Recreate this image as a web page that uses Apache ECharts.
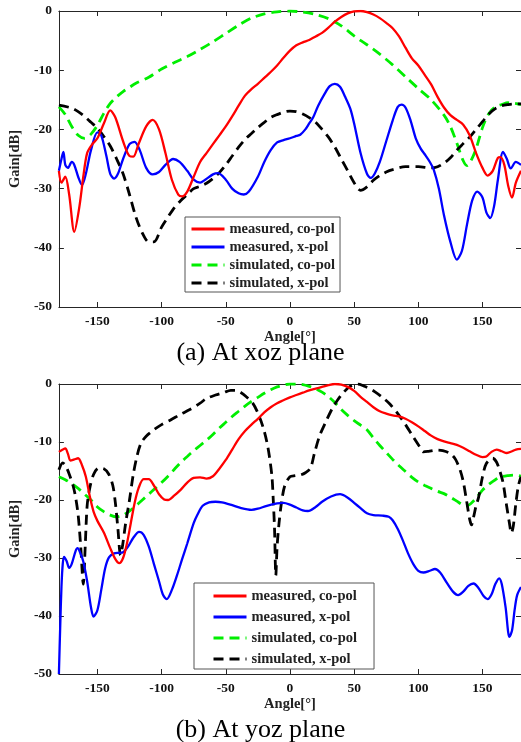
<!DOCTYPE html>
<html><head><meta charset="utf-8">
<script src="https://cdn.jsdelivr.net/npm/echarts@6/dist/echarts.min.js"></script>
<style>html,body{margin:0;padding:0;background:#fff}#c{width:521px;height:742px}</style>
</head><body><div id="c"></div>
<script>
// ---------- data ----------
const xTicks = [-150, -100, -50, 0, 50, 100, 150];
const seriesNames = ['measured, co-pol', 'measured, x-pol', 'simulated, co-pol', 'simulated, x-pol'];
const captions = ['(a) At xoz plane', '(b) At yoz plane'];
const xName = 'Angle[°]';
const yName = 'Gain[dB]';

// (a) xoz plane
const xozMeasCo = [[-180,-27],[-178,-29],[-175,-28],[-172,-31],[-168,-37.3],[-164,-33],[-161,-28],[-158,-24],[-154,-22.5],[-150,-21.5],[-145,-19],[-140,-16.8],[-136,-18],[-130,-22],[-125,-24.5],[-122,-24.6],[-118,-22.5],[-112,-19.5],[-107,-18.4],[-102,-20],[-97,-24],[-92,-28.5],[-87,-31],[-84,-31.3],[-80,-30.5],[-75,-28],[-70,-25.5],[-65,-24],[-60,-22.5],[-55,-21],[-50,-19.5],[-45,-17.8],[-40,-16],[-35,-14.3],[-30,-13.2],[-25,-12.3],[-20,-11.3],[-15,-10.3],[-10,-9.2],[-5,-7.9],[0,-6.7],[5,-5.8],[10,-5.3],[15,-4.9],[20,-4.3],[25,-3.7],[30,-2.8],[35,-1.8],[40,-1],[45,-0.4],[50,-0.05],[55,0],[60,-0.2],[65,-0.6],[70,-1.2],[75,-2],[80,-2.9],[85,-4.3],[90,-6.2],[95,-8],[100,-9.2],[105,-10.8],[110,-12.4],[115,-14.5],[120,-16.3],[125,-17.6],[130,-18.4],[135,-19.2],[140,-21],[145,-24],[150,-26.5],[154,-27.8],[158,-27],[162,-24.8],[164,-24.7],[167,-26],[170,-29.5],[173,-31.5],[176,-29],[180,-27]];
const xozMeasX = [[-180,-27],[-178,-25],[-176.5,-23.8],[-175,-26],[-173,-26.5],[-170,-25.5],[-168,-26],[-165,-28],[-162,-29.4],[-159,-27.5],[-155,-23.5],[-150,-20.5],[-147,-21],[-143,-24.5],[-140,-27.5],[-137,-28.3],[-134,-27.5],[-130,-25],[-125,-22.5],[-121,-22.1],[-117,-23.5],[-112,-26.5],[-107,-27.6],[-102,-27.2],[-97,-26],[-91,-25],[-86,-25.5],[-80,-27],[-75,-28.5],[-70,-29],[-66,-28.5],[-60,-27.6],[-56,-27.4],[-50,-28.5],[-45,-30],[-40,-30.8],[-36,-31],[-32,-30.5],[-25,-28],[-20,-25.5],[-15,-23.5],[-10,-22.2],[-5,-21.8],[0,-21.5],[5,-21.1],[8,-20.9],[12,-20],[15,-19],[18,-18],[22,-16],[27,-14],[31,-12.7],[35,-12.3],[39,-12.8],[43,-14.5],[47,-16.5],[50,-19],[55,-24],[60,-27.5],[63,-28.2],[66,-27.5],[70,-25.5],[75,-22],[80,-18.5],[84,-16.2],[87,-15.8],[90,-16.3],[94,-18.5],[98,-21.5],[102,-23.3],[105,-24.2],[109,-25.5],[112,-26.8],[116,-30],[120,-34.5],[125,-39],[130,-42],[134,-40.5],[138,-36],[142,-32],[146,-30.5],[150,-31.5],[153,-34],[156,-35],[159,-33],[162,-28.5],[166,-23.8],[169,-25],[172,-26.6],[176,-25.5],[180,-26]];
const xozSimCo = [[-180,-16.2],[-175,-17.5],[-170,-19.5],[-165,-21],[-160,-21.5],[-155,-20.8],[-150,-19.3],[-145,-17.3],[-140,-15.6],[-135,-14.5],[-130,-13.6],[-125,-12.9],[-120,-12.2],[-110,-11.2],[-100,-9.8],[-90,-8.7],[-80,-7.7],[-70,-6.5],[-60,-5.2],[-50,-3.8],[-40,-2.4],[-30,-1.2],[-20,-0.5],[-10,-0.15],[0,0],[10,-0.2],[20,-0.6],[30,-1.3],[40,-2.5],[50,-4.2],[60,-5.7],[70,-7.3],[80,-9.1],[90,-11.1],[100,-13.1],[110,-15],[120,-17.6],[125,-19.5],[130,-22.3],[135,-25.3],[138,-26.1],[141,-25.3],[145,-23.3],[150,-19.7],[155,-17.3],[160,-16.2],[165,-15.8],[170,-15.5],[175,-15.6],[180,-15.8]];
const xozSimX = [[-180,-15.9],[-170,-16.4],[-165,-17],[-160,-17.8],[-155,-18.8],[-150,-19.8],[-145,-21.2],[-140,-22.8],[-135,-25],[-130,-27.5],[-125,-31],[-120,-34.8],[-115,-37.5],[-110,-39],[-106,-39],[-100,-36.5],[-95,-34.8],[-90,-33.2],[-85,-32],[-80,-31],[-75,-30],[-70,-29.6],[-65,-29.1],[-60,-28.3],[-55,-27.3],[-50,-26],[-45,-24.5],[-40,-23],[-35,-21.7],[-30,-20.7],[-25,-19.7],[-20,-18.8],[-15,-18],[-10,-17.5],[-5,-17.1],[0,-16.9],[5,-17],[10,-17.4],[15,-18],[20,-18.8],[25,-20],[30,-21.3],[35,-23],[40,-25],[45,-27],[50,-29],[55,-30.3],[60,-29.7],[65,-28.6],[70,-27.8],[75,-27.2],[80,-26.8],[90,-26.3],[100,-26.3],[110,-26.5],[115,-26.3],[120,-25.7],[125,-24.8],[130,-23.5],[135,-22.4],[140,-21.3],[145,-20],[150,-18.7],[155,-17.4],[160,-16.5],[165,-16],[170,-15.8],[175,-15.7],[180,-15.7]];

// (b) yoz plane
const yozMeasCo = [[-180,-11.7],[-177,-11.3],[-175,-11.1],[-173,-12],[-171,-13.2],[-168,-13],[-165,-12.8],[-162,-14],[-159,-16],[-156,-19.3],[-153,-22],[-150,-23.6],[-145,-25.6],[-140,-28.3],[-136,-30.2],[-133,-30.9],[-130,-30],[-127,-27.5],[-124,-24],[-121,-20.5],[-118,-18],[-114,-16.4],[-110,-16.4],[-106,-17.5],[-102,-19],[-98,-19.9],[-95,-20],[-90,-19.2],[-85,-18.2],[-80,-17],[-75,-16.2],[-70,-16.1],[-65,-16.3],[-60,-15.9],[-55,-14.6],[-50,-13.1],[-45,-11.3],[-40,-9.5],[-35,-8.1],[-30,-7],[-25,-6],[-20,-4.9],[-15,-4],[-10,-3.3],[-5,-2.8],[0,-2.3],[5,-1.9],[10,-1.5],[15,-1.1],[20,-0.8],[25,-0.5],[30,-0.2],[35,0],[40,-0.1],[45,-0.5],[50,-1.2],[55,-2.2],[60,-3.1],[65,-4],[70,-4.7],[75,-5.1],[80,-5.4],[85,-5.6],[90,-6],[95,-6.6],[100,-7.3],[105,-8.1],[110,-8.9],[115,-9.5],[120,-9.9],[125,-10.2],[130,-10.5],[135,-11],[140,-11.6],[145,-12.2],[150,-12.6],[153,-12.5],[157,-11.7],[161,-11.3],[165,-11.6],[169,-11.9],[173,-11.6],[176,-11.3],[180,-11.2]];
const yozMeasX = [[-180,-50],[-179,-42],[-178,-35],[-177,-31],[-176,-29.8],[-174,-30.5],[-172,-31.7],[-170,-31],[-167,-28.8],[-165.5,-28.3],[-163,-29.3],[-161,-30.6],[-158,-34],[-155,-38.5],[-153,-40.1],[-150,-39],[-147,-35.5],[-144,-31.8],[-141,-29.9],[-137,-29.2],[-133,-29.1],[-130,-29],[-126,-28],[-122,-26.5],[-117.5,-25.5],[-114,-26],[-110,-28],[-106,-31],[-102,-34],[-99,-36.3],[-96,-37.1],[-92,-35.5],[-88,-33],[-84,-30.2],[-80,-27.5],[-75,-24],[-72,-22.5],[-68,-21],[-63,-20.4],[-58,-20.3],[-53,-20.4],[-45,-20.9],[-38,-21.4],[-30,-21.7],[-25,-21.5],[-18,-21],[-10,-20.6],[-5,-20.5],[0,-20.8],[5,-21.3],[10,-21.8],[14,-21.9],[20,-21.2],[25,-20.3],[32,-19.4],[39,-19],[45,-19.6],[50,-20.5],[55,-21.4],[60,-22.3],[65,-22.6],[72,-22.7],[77,-22.9],[80,-23.5],[84,-25],[88,-27],[92,-29.2],[96,-31],[100,-32.2],[104,-32.5],[109,-32.2],[113,-31.9],[117,-32.5],[122,-34.2],[127,-35.8],[131,-36.4],[135,-35.8],[139,-34.8],[143,-34.4],[147,-35.2],[151,-36.6],[154,-37.1],[157,-36.3],[160,-34.5],[163,-33.5],[165,-34.5],[168,-38.5],[171,-43.6],[173,-42.5],[175,-39],[177,-36.4],[180,-35]];
const yozSimCo = [[-180,-16],[-175,-16.5],[-170,-17.2],[-165,-18],[-160,-19],[-155,-20],[-150,-21.2],[-145,-22],[-140,-22.6],[-135,-22.9],[-130,-22.6],[-125,-21.9],[-120,-21],[-115,-20],[-110,-19],[-105,-18],[-100,-17],[-95,-15.9],[-90,-14.7],[-85,-13.5],[-80,-12.5],[-75,-11.5],[-70,-10.6],[-65,-9.7],[-60,-8.7],[-55,-7.6],[-50,-6.6],[-45,-5.6],[-40,-4.7],[-35,-3.8],[-30,-3],[-25,-2.3],[-20,-1.6],[-15,-1],[-10,-0.5],[-5,-0.2],[0,0],[5,0],[10,-0.1],[15,-0.4],[20,-0.8],[25,-1.4],[30,-2.2],[35,-3.2],[40,-4.4],[45,-5.4],[50,-6.3],[55,-7.1],[60,-7.9],[65,-9.3],[70,-10.6],[75,-11.8],[80,-13],[85,-14.1],[90,-15.1],[95,-16.1],[100,-16.9],[105,-17.5],[110,-18],[115,-18.5],[120,-18.9],[125,-19.5],[130,-20.2],[135,-20.9],[138,-21],[141,-20.6],[145,-19.7],[150,-18.3],[155,-17.3],[160,-16.5],[165,-16],[170,-15.8],[175,-15.7],[180,-15.9]];
const yozSimX = [[-180,-14.8],[-177,-13.6],[-175,-14],[-172,-15.5],[-169,-17.5],[-167,-19.5],[-165,-22.6],[-163,-28],[-161,-34.5],[-159.5,-28],[-158,-21],[-156,-18],[-153,-15.6],[-149,-14.5],[-145,-14.6],[-141,-15.6],[-138,-17.5],[-136,-20.5],[-134,-25],[-132,-29.5],[-130.5,-28],[-128,-24],[-125,-20],[-122,-15.5],[-119,-12.3],[-116,-10.2],[-112,-9],[-106,-7.9],[-100,-7],[-93,-6.2],[-85,-5.2],[-78,-4.4],[-70,-3.3],[-65,-2.5],[-58,-1.9],[-52,-1.5],[-46,-1.1],[-42,-1.1],[-38,-1.5],[-34,-2.2],[-29,-3.3],[-25,-5],[-21,-7.4],[-18,-10],[-16,-12.5],[-14,-16],[-13,-20],[-12,-25],[-11,-33],[-10,-28],[-8.5,-24],[-6.5,-20.3],[-4,-17.5],[0,-16],[4,-15.8],[8,-15.7],[12,-15.3],[16,-14.5],[19,-12],[23,-9],[28,-6.5],[33,-4.2],[37,-2.8],[42,-1.4],[47,-0.4],[53,0],[58,-0.4],[62,-0.8],[66,-1.3],[72,-2.3],[78,-3.5],[84,-5.1],[90,-7],[96,-9.1],[101,-10.8],[104,-11.7],[108,-11.6],[114,-11.4],[119,-11.5],[125,-12],[129,-13],[132.5,-14.8],[135,-16.8],[137.5,-20],[140,-23.3],[141.5,-24.3],[143,-23],[145,-21],[147,-19.5],[150,-16],[153,-13.7],[158,-12.8],[161,-13.5],[163.5,-15],[166,-17],[168.5,-20.6],[171,-24],[172.5,-25.7],[174,-24.5],[176,-20.6],[178,-17.5],[180,-16]];

// ---------- chart ----------
const FONT = "'Liberation Serif','Times New Roman',serif";
const AX = '#262626';
const chart = echarts.init(document.getElementById('c'), null, {renderer: 'canvas'});

const grids = [
  {left: 57.5, top: 11, width: 469, height: 296},
  {left: 57.5, top: 384, width: 468, height: 290}
];

function xAxes(gi) {
  const base = {
    type: 'value', gridIndex: gi, min: -180, max: 180,
    splitLine: {show: false},
    axisLine: {show: true, onZero: false, lineStyle: {color: AX, width: 1}},
    axisTick: {show: true, inside: true, length: 5, customValues: xTicks, lineStyle: {color: AX}},
  };
  return [
    Object.assign({}, base, {
      position: 'bottom',
      axisLabel: {show: true, customValues: xTicks, margin: 8, color: '#111', fontFamily: FONT, fontWeight: 'bold', fontSize: 13.5},
      name: xName, nameLocation: 'middle', nameGap: 17,
      nameTextStyle: {color: '#222', fontFamily: FONT, fontWeight: 'bold', fontSize: 14.5}
    }),
    Object.assign({}, base, {position: 'top', axisLabel: {show: false}})
  ];
}
function yAxes(gi) {
  const base = {
    type: 'value', gridIndex: gi, min: -50, max: 0, interval: 10,
    splitLine: {show: false},
    axisLine: {show: true, onZero: false, lineStyle: {color: AX, width: 1}},
    axisTick: {show: true, inside: true, length: 5, lineStyle: {color: AX}},
  };
  return [
    Object.assign({}, base, {
      position: 'left',
      axisLabel: {show: true, margin: 7, color: '#111', fontFamily: FONT, fontWeight: 'bold', fontSize: 13.5},
      name: yName, nameLocation: 'middle', nameGap: 28, nameRotate: 90,
      nameTextStyle: {color: '#222', fontFamily: FONT, fontWeight: 'bold', fontSize: 14.5}
    }),
    Object.assign({}, base, {position: 'right', axisLabel: {show: false}})
  ];
}

const styles = [
  {color: '#ff0000', width: 2.3, type: 'solid'},
  {color: '#0000ff', width: 2.3, type: 'solid'},
  {color: '#00ee00', width: 2.8, type: [10, 6]},
  {color: '#000000', width: 2.8, type: [10, 6]}
];
const dataSets = [
  [xozMeasCo, xozMeasX, xozSimCo, xozSimX],
  [yozMeasCo, yozMeasX, yozSimCo, yozSimX]
];
const series = [];
dataSets.forEach((sets, gi) => {
  sets.forEach((d, si) => {
    series.push({
      type: 'line', name: seriesNames[si], data: d,
      xAxisIndex: gi * 2, yAxisIndex: gi * 2,
      symbol: 'none', smooth: 0.3, z: si === 0 ? 5 : (si === 1 ? 4 : 3),
      lineStyle: {color: styles[si].color, width: styles[si].width, type: styles[si].type},
      itemStyle: {color: styles[si].color}
    });
  });
});

function legendCfg(left, top, padding, gap) {
  return {
    show: true, left: left, top: top, orient: 'vertical', data: seriesNames,
    padding: padding, itemGap: gap, itemWidth: 33, itemHeight: 14,
    borderColor: '#555', borderWidth: 1, backgroundColor: '#fff',
    selectedMode: false,
    itemStyle: {opacity: 0},
    lineStyle: {width: 3},
    textStyle: {fontFamily: FONT, fontWeight: 'bold', fontSize: 14.5, color: '#222', lineHeight: 16}
  };
}

chart.setOption({
  animation: false,
  backgroundColor: '#fff',
  grid: grids,
  xAxis: xAxes(0).concat(xAxes(1)),
  yAxis: yAxes(0).concat(yAxes(1)),
  legend: [legendCfg(185, 217, [4, 5, 1, 5], 2), legendCfg(194, 583, [5, 17, 2, 18], 5)],
  series: series,
  graphic: [
    {type: 'text', left: 'center', top: 340, style: {text: captions[0], font: "26px 'Liberation Serif','Times New Roman',serif", fill: '#000'}},
    {type: 'text', left: 'center', top: 717, style: {text: captions[1], font: "26px 'Liberation Serif','Times New Roman',serif", fill: '#000'}}
  ]
});
</script></body></html>
